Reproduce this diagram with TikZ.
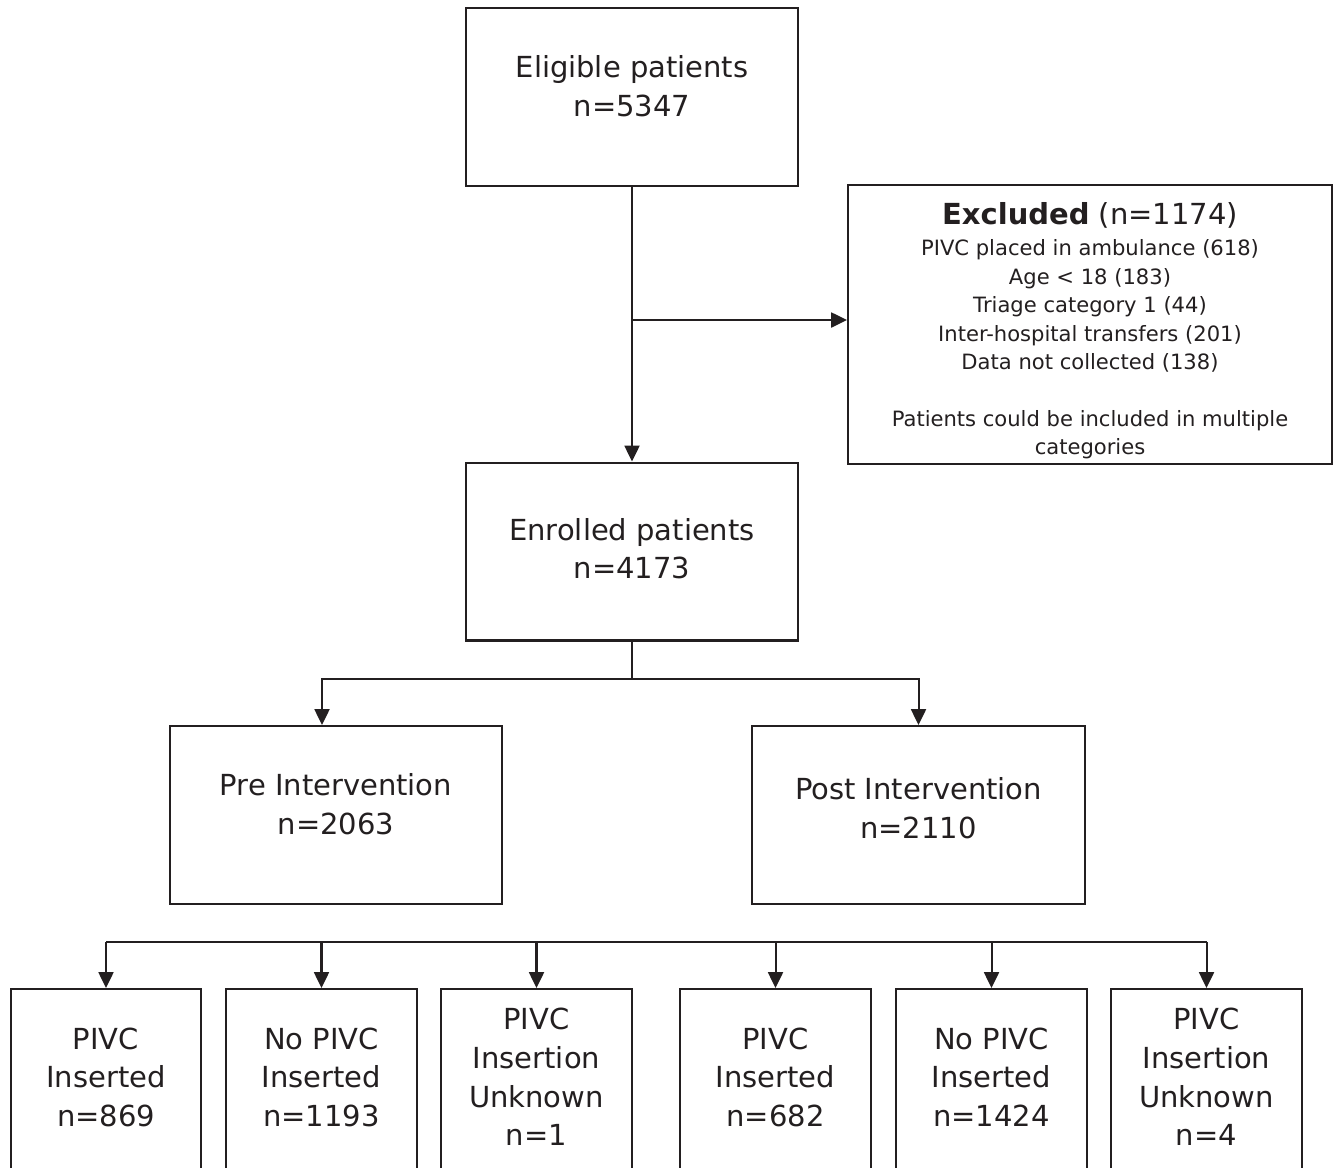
\documentclass[tikz,border=0pt]{standalone}
\usepackage{fontspec}
\setmainfont{DejaVu Sans}
\usetikzlibrary{arrows.meta}
\definecolor{ink}{HTML}{231F20}

\tikzset{
  box/.style={draw=ink, line width=1.15pt, minimum width=6.66cm, minimum height=3.56cm,
    align=center, inner sep=0pt, text=ink, font=\fontsize{16.5}{22}\selectfont},
  excbox/.style={box, minimum width=9.68cm, minimum height=5.58cm,
    font=\fontsize{12}{16.2}\selectfont},
  armbox/.style={box, minimum width=3.82cm, minimum height=3.72cm, textlift=5.7pt},
  textlift/.style={execute at end node={\rule[-#1]{0pt}{0pt}}},
  link/.style={draw=ink, line width=1.15pt},
  flow/.style={link, -{Triangle[length=9pt,width=8.5pt]}},
}

\begin{document}
\begin{tikzpicture}[x=0.02cm, y=-0.02cm]
    \useasboundingbox (0,0) rectangle (1335,1167);
    \clip (0,0) rectangle (1335,1167);
    % top of the flow
    \node [box, textlift=12.5pt] (elig) at (632,97) {Eligible patients\\n=5347};
    \node [excbox] (excl) at (1090,324.5) {\rule{0pt}{19.5pt}{\fontsize{16.5}{18}\selectfont\textbf{Excluded} (n=1174)}\\[1.8pt]
      PIVC placed in ambulance (618)\\Age < 18 (183)\\Triage category 1 (44)\\
      Inter-hospital transfers (201)\\Data not collected (138)\\[16.2pt]
      Patients could be included in multiple\\categories};
    \node [box, textlift=3.4pt] (enr) at (632,551.5) {Enrolled patients\\n=4173};
    % study periods
    \node [box, textlift=12.5pt] (pre) at (336,815) {Pre Intervention\\n=2063};
    \node [box, textlift=7.9pt] (post) at (918.5,815) {Post Intervention\\n=2110};
    % outcome groups
    \node [armbox] (preins) at (106,1082) {PIVC\\Inserted\\n=869};
    \node [armbox] (prenot) at (321.5,1082) {No PIVC\\Inserted\\n=1193};
    \node [armbox] (preunk) at (536.5,1082) {PIVC\\Insertion\\Unknown\\n=1};
    \node [armbox] (postins) at (775.5,1082) {PIVC\\Inserted\\n=682};
    \node [armbox] (postnot) at (991.5,1082) {No PIVC\\Inserted\\n=1424};
    \node [armbox] (postunk) at (1206.5,1082) {PIVC\\Insertion\\Unknown\\n=4};
    % connectors
    \coordinate (split) at (632,320);
    \coordinate (fork) at (632,679);
    \coordinate (bar) at (0,942);
    \draw [flow] (elig) -- (enr);
    \draw [flow] (split) -- (split -| excl.west);
    \draw [link] (enr) -- (fork);
    \draw [flow] (fork) -| ([xshift=-0.28cm]pre.north);
    \draw [flow] (fork) -| (post.north);
    \draw [link] (preins.north |- bar) -- (postunk.north |- bar);
    \foreach \grp in {preins,prenot,preunk,postins,postnot,postunk}
        \draw [flow] (\grp.north |- bar) -- (\grp.north);
\end{tikzpicture}
\end{document}
